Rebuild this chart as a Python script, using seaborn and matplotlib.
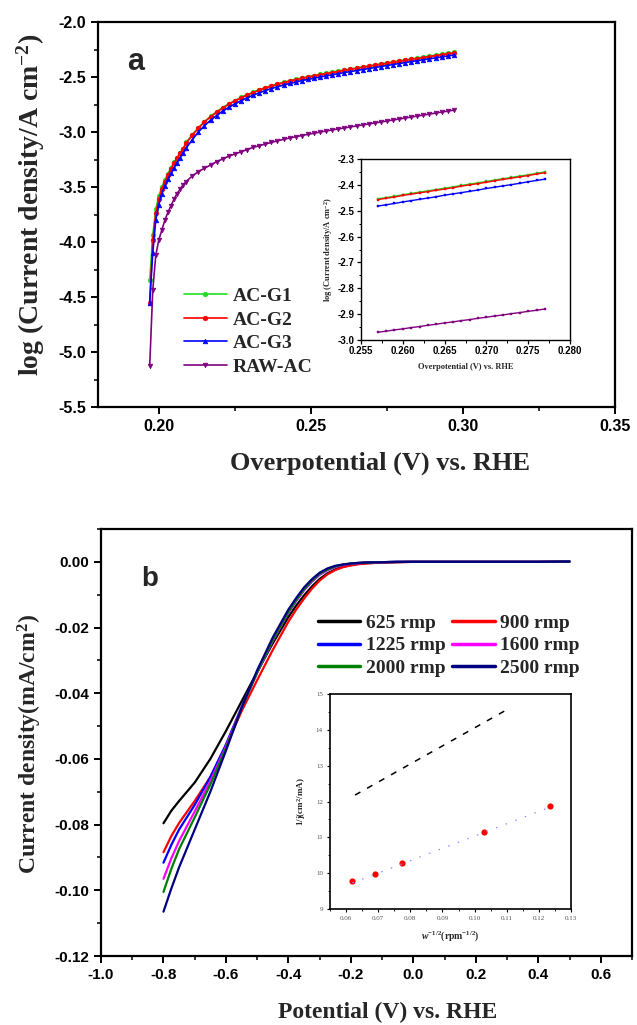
import matplotlib
matplotlib.use("Agg")
import matplotlib.pyplot as plt
import seaborn as sns
import pandas as pd
from matplotlib.ticker import MultipleLocator

# ---------------- data: panel a (Tafel, main) ----------------
eta = [0.197, 0.198, 0.199, 0.200, 0.201, 0.202, 0.203, 0.204, 0.205, 0.206, 0.207, 0.208, 0.209,
       0.211, 0.213, 0.215, 0.217, 0.219, 0.221, 0.223, 0.225, 0.227, 0.229, 0.231, 0.233, 0.235,
       0.237, 0.239, 0.241, 0.243, 0.245, 0.247, 0.249, 0.251, 0.253, 0.255, 0.257, 0.259, 0.261,
       0.263, 0.265, 0.267, 0.269, 0.271, 0.273, 0.275, 0.277, 0.279, 0.281, 0.283, 0.285, 0.287,
       0.289, 0.291, 0.293, 0.295, 0.297]
ac_g1 = [-4.35, -3.94, -3.70, -3.58, -3.50, -3.435, -3.378, -3.325, -3.277, -3.233, -3.19, -3.15, -3.095,
         -3.026, -2.961, -2.906, -2.858, -2.816, -2.778, -2.744, -2.714, -2.686, -2.661, -2.638, -2.616, -2.596,
         -2.579, -2.563, -2.548, -2.534, -2.521, -2.509, -2.498, -2.487, -2.476, -2.466, -2.456, -2.446, -2.436,
         -2.427, -2.418, -2.408, -2.399, -2.390, -2.381, -2.372, -2.363, -2.354, -2.345, -2.336, -2.328, -2.319,
         -2.310, -2.302, -2.293, -2.285, -2.277]
ac_g2 = [-4.55, -3.98, -3.74, -3.61, -3.52, -3.45, -3.39, -3.335, -3.285, -3.24, -3.195, -3.155, -3.10,
         -3.03, -2.965, -2.91, -2.862, -2.82, -2.782, -2.748, -2.718, -2.69, -2.665, -2.642, -2.62, -2.60,
         -2.583, -2.567, -2.552, -2.538, -2.525, -2.513, -2.502, -2.491, -2.480, -2.470, -2.460, -2.450, -2.440,
         -2.431, -2.422, -2.412, -2.403, -2.394, -2.385, -2.376, -2.367, -2.358, -2.349, -2.340, -2.332, -2.323,
         -2.314, -2.306, -2.297, -2.289, -2.281]
ac_g3 = [-4.55, -4.10, -3.80, -3.66, -3.56, -3.49, -3.43, -3.375, -3.325, -3.28, -3.235, -3.19, -3.145,
         -3.07, -3.00, -2.943, -2.893, -2.85, -2.81, -2.776, -2.745, -2.716, -2.69, -2.666, -2.644, -2.623,
         -2.605, -2.589, -2.573, -2.559, -2.546, -2.533, -2.522, -2.511, -2.500, -2.490, -2.480, -2.470, -2.460,
         -2.451, -2.442, -2.432, -2.423, -2.414, -2.405, -2.396, -2.387, -2.378, -2.369, -2.360, -2.352, -2.343,
         -2.334, -2.326, -2.317, -2.309, -2.300]
raw_ac = [-5.13, -4.44, -4.12, -3.98, -3.89, -3.80, -3.73, -3.67, -3.61, -3.56, -3.52, -3.48, -3.45,
          -3.40, -3.36, -3.33, -3.30, -3.27, -3.245, -3.22, -3.20, -3.18, -3.16, -3.14, -3.125, -3.11,
          -3.095, -3.08, -3.067, -3.055, -3.043, -3.032, -3.021, -3.011, -3.001, -2.991, -2.981, -2.972, -2.963,
          -2.954, -2.945, -2.936, -2.927, -2.918, -2.909, -2.900, -2.891, -2.882, -2.873, -2.864, -2.855, -2.846,
          -2.837, -2.828, -2.819, -2.810, -2.801]
series_a = ["AC-G1", "AC-G2", "AC-G3", "RAW-AC"]

# ---------------- data: panel a inset ----------------
eta_in = [0.257, 0.258, 0.259, 0.260, 0.261, 0.262, 0.263, 0.264, 0.265, 0.266, 0.267,
          0.268, 0.269, 0.270, 0.271, 0.272, 0.273, 0.274, 0.275, 0.276, 0.277]
in_g1 = [-2.454, -2.449, -2.444, -2.438, -2.433, -2.428, -2.423, -2.418, -2.413, -2.408, -2.402,
         -2.397, -2.392, -2.387, -2.381, -2.376, -2.371, -2.366, -2.361, -2.355, -2.350]
in_g2 = [-2.457, -2.452, -2.447, -2.441, -2.436, -2.431, -2.426, -2.421, -2.416, -2.411, -2.405,
         -2.400, -2.395, -2.390, -2.384, -2.379, -2.374, -2.369, -2.364, -2.358, -2.353]
in_g3 = [-2.482, -2.477, -2.472, -2.466, -2.461, -2.456, -2.451, -2.446, -2.440, -2.435, -2.430,
         -2.425, -2.420, -2.414, -2.409, -2.404, -2.399, -2.394, -2.388, -2.383, -2.378]
in_raw = [-2.970, -2.966, -2.961, -2.957, -2.952, -2.948, -2.943, -2.939, -2.934, -2.930, -2.925,
          -2.921, -2.916, -2.912, -2.907, -2.903, -2.898, -2.894, -2.889, -2.885, -2.880]

# ---------------- data: panel b (LSV at rotation rates) ----------------
potential = [-0.80, -0.775, -0.75, -0.70, -0.65, -0.60, -0.55, -0.50, -0.45, -0.40, -0.375, -0.35,
             -0.325, -0.30, -0.275, -0.25, -0.225, -0.20, -0.175, -0.15, -0.10, -0.05, 0.00,
             0.10, 0.20, 0.30, 0.40, 0.50]
j625 = [-0.0796, -0.0758, -0.0728, -0.0672, -0.0600, -0.0515, -0.0425, -0.0335, -0.0248, -0.0168, -0.0133,
        -0.0102, -0.0075, -0.0052, -0.0035, -0.0023, -0.0015, -0.0010, -0.0006, -0.0004, -0.0002, -0.0001,
        0.0, 0.0, 0.0, 0.0, 0.0, 0.0001]
j900 = [-0.0884, -0.0835, -0.0795, -0.0728, -0.0655, -0.0562, -0.0455, -0.0360, -0.0268, -0.0182, -0.0145,
        -0.0112, -0.0082, -0.0057, -0.0038, -0.0025, -0.0016, -0.0011, -0.0007, -0.0005, -0.0002, -0.0001,
        0.0, 0.0, 0.0, 0.0, 0.0, 0.0001]
j1225 = [-0.0916, -0.0862, -0.0815, -0.0740, -0.0655, -0.0556, -0.0442, -0.0337, -0.0240, -0.0154, -0.0118,
         -0.0086, -0.0060, -0.0039, -0.0025, -0.0015, -0.0009, -0.0006, -0.0004, -0.0002, -0.0001, 0.0,
         0.0, 0.0, 0.0, 0.0, 0.0, 0.0001]
j1600 = [-0.0965, -0.0903, -0.0850, -0.0760, -0.0668, -0.0562, -0.0444, -0.0337, -0.0240, -0.0154, -0.0118,
         -0.0085, -0.0059, -0.0038, -0.0024, -0.0015, -0.0009, -0.0006, -0.0004, -0.0002, -0.0001, 0.0,
         0.0, 0.0, 0.0, 0.0, 0.0, 0.0001]
j2000 = [-0.1005, -0.0935, -0.0875, -0.0778, -0.0678, -0.0567, -0.0446, -0.0336, -0.0238, -0.0152, -0.0116,
         -0.0083, -0.0057, -0.0036, -0.0023, -0.0014, -0.0008, -0.0005, -0.0003, -0.0002, -0.0001, 0.0,
         0.0, 0.0, 0.0, 0.0, 0.0, 0.0001]
j2500 = [-0.1065, -0.0995, -0.0930, -0.0815, -0.0700, -0.0575, -0.0445, -0.0330, -0.0230, -0.0145, -0.0110,
         -0.0078, -0.0053, -0.0033, -0.0020, -0.0012, -0.0008, -0.0005, -0.0003, -0.0002, -0.0001, 0.0,
         0.0, 0.0, 0.0, 0.0, 0.0, 0.0001]
rates = ["625 rmp", "900 rmp", "1225 rmp", "1600 rmp", "2000 rmp", "2500 rmp"]

# ---------------- data: panel b inset (Koutecky-Levich) ----------------
w_inv = [0.0618, 0.0691, 0.0773, 0.1030, 0.1236]
inv_j = [9.78, 9.99, 10.27, 11.15, 11.87]
fit_x = [0.0620, 0.1240]
fit_y = [9.73, 11.86]
theo_x = [0.0628, 0.1100]
theo_y = [12.18, 14.56]

# ---------------- style ----------------
sns.set_theme(style="ticks")
plt.rcParams.update({
    "font.family": ["Liberation Sans", "DejaVu Sans"],
    "font.weight": "bold",
    "mathtext.fontset": "custom",
    "mathtext.rm": "Liberation Serif:bold",
    "mathtext.bf": "Liberation Serif:bold",
    "mathtext.it": "Liberation Serif:italic:bold",
    "axes.linewidth": 1.6,
    "axes.edgecolor": "black",
    "xtick.color": "black",
    "ytick.color": "black",
    "xtick.direction": "out",
    "ytick.direction": "out",
})
SERIF = ["Liberation Serif", "DejaVu Serif"]
SANS = ["Liberation Sans", "DejaVu Sans"]

W, H = 637, 1025
fig = plt.figure(figsize=(W / 100, H / 100), dpi=100)


def px_axes(l, t, r, b):
    return fig.add_axes([l / W, 1 - b / H, (r - l) / W, (b - t) / H])


def style_ticks(ax, size, major=5, minor=3, width=1.4):
    ax.tick_params(which="major", length=major, width=width, labelsize=size,
                   top=False, right=False)
    ax.tick_params(which="minor", length=minor, width=width * 0.8, top=False, right=False)
    for lab in ax.get_xticklabels() + ax.get_yticklabels():
        lab.set_fontweight("bold")
        lab.set_family(SANS)


def draw(ax, x, y, **kw):
    sns.lineplot(x=x, y=y, ax=ax, estimator=None, sort=False, **kw)


# ================= panel a =================
ax_a = px_axes(98, 22, 615, 407)
cols_a = ["#22dd22", "#ff0000", "#0000ff", "#800080"]
marks_a = ["o", "o", "^", "v"]
for name, vals, c, m in zip(series_a, [ac_g1, ac_g2, ac_g3, raw_ac], cols_a, marks_a):
    draw(ax_a, eta, vals, color=c, lw=1.2, marker=m, ms=3.3, mec=c, mew=0.5, label=name)
ax_a.set_xlim(0.18, 0.35)
ax_a.set_ylim(-5.5, -2.0)
ax_a.xaxis.set_minor_locator(MultipleLocator(0.025))
ax_a.yaxis.set_minor_locator(MultipleLocator(0.25))
ax_a.set_xticks([0.20, 0.25, 0.30, 0.35])
ax_a.set_xticklabels(["0.20", "0.25", "0.30", "0.35"])
ax_a.set_yticks([-5.5, -5.0, -4.5, -4.0, -3.5, -3.0, -2.5, -2.0])
ax_a.set_yticklabels(["-5.5", "-5.0", "-4.5", "-4.0", "-3.5", "-3.0", "-2.5", "-2.0"])
style_ticks(ax_a, 11.5)
ax_a.set_xlabel("Overpotential (V) vs. RHE", family=SERIF, fontsize=19, fontweight="bold")
ax_a.set_ylabel("log (Current density/A cm$^{-2}$)", family=SERIF, fontsize=20, fontweight="bold")
ax_a.xaxis.set_label_coords(0.545, -0.145)
ax_a.xaxis.label.set_va("center")
ax_a.yaxis.set_label_coords(-0.13, 0.525)
ax_a.yaxis.label.set_va("center")
ax_a.text(0.056, 0.875, "a", transform=ax_a.transAxes, family=SANS, fontsize=22,
          fontweight="bold", va="baseline", ha="left")
leg_a = ax_a.legend(loc="upper left", bbox_to_anchor=(0.166, 0.31), frameon=False,
                    prop={"family": SERIF, "weight": "bold", "size": 14},
                    handlelength=2.2, handletextpad=0.3, labelspacing=0.3, borderpad=0,
                    borderaxespad=0)

# ================= panel a inset =================
ins_a = px_axes(361, 159, 570, 340)
for vals, c in zip([in_g1, in_g2, in_g3, in_raw], cols_a):
    draw(ins_a, eta_in, vals, color=c, lw=1.0, marker="s", ms=2.0, mec=c, mew=0.3)
ins_a.set_xlim(0.255, 0.280)
ins_a.set_ylim(-3.0, -2.3)
ins_a.set_xticks([0.255, 0.260, 0.265, 0.270, 0.275, 0.280])
ins_a.set_xticklabels(["0.255", "0.260", "0.265", "0.270", "0.275", "0.280"])
ins_a.set_yticks([-3.0, -2.9, -2.8, -2.7, -2.6, -2.5, -2.4, -2.3])
ins_a.set_yticklabels(["-3.0", "-2.9", "-2.8", "-2.7", "-2.6", "-2.5", "-2.4", "-2.3"])
ins_a.xaxis.set_minor_locator(MultipleLocator(0.0025))
ins_a.yaxis.set_minor_locator(MultipleLocator(0.05))
for s in ins_a.spines.values():
    s.set_linewidth(1.0)
style_ticks(ins_a, 7, major=3, minor=1.8, width=0.9)
ins_a.tick_params(pad=1.5)
ins_a.set_xlabel("Overpotential (V) vs. RHE", family=SERIF, fontsize=6, fontweight="bold", labelpad=5)
ins_a.set_ylabel("log (Current density/A cm$^{-2}$)", family=SERIF, fontsize=6, fontweight="bold",
                 labelpad=2)

# ================= panel b =================
ax_b = px_axes(101, 529, 632, 956)
cols_b = ["#000000", "#ff0000", "#0000ff", "#ff00ff", "#008000", "#000080"]
for name, vals, c in zip(rates, [j625, j900, j1225, j1600, j2000, j2500], cols_b):
    draw(ax_b, potential, vals, color=c, lw=1.6, label=name)
ax_b.set_xlim(-1.0, 0.7)
ax_b.set_ylim(-0.12, 0.01)
ax_b.set_xticks([-1.0, -0.8, -0.6, -0.4, -0.2, 0.0, 0.2, 0.4, 0.6])
ax_b.set_xticklabels(["-1.0", "-0.8", "-0.6", "-0.4", "-0.2", "0.0", "0.2", "0.4", "0.6"])
ax_b.set_yticks([-0.12, -0.10, -0.08, -0.06, -0.04, -0.02, 0.00])
ax_b.set_yticklabels(["-0.12", "-0.10", "-0.08", "-0.06", "-0.04", "-0.02", "0.00"])
ax_b.xaxis.set_minor_locator(MultipleLocator(0.1))
ax_b.yaxis.set_minor_locator(MultipleLocator(0.01))
style_ticks(ax_b, 11)
ax_b.set_xlabel("Potential (V) vs. RHE", family=SERIF, fontsize=17, fontweight="bold")
ax_b.set_ylabel("Current density(mA/cm$^{2}$)", family=SERIF, fontsize=17, fontweight="bold")
ax_b.xaxis.set_label_coords(0.540, -0.133)
ax_b.xaxis.label.set_va("center")
ax_b.yaxis.set_label_coords(-0.134, 0.496)
ax_b.yaxis.label.set_va("center")
ax_b.text(0.075, 0.867, "b", transform=ax_b.transAxes, family=SANS, fontsize=20,
          fontweight="bold", va="baseline", ha="left")
hb = ax_b.get_lines()[:6]
order = [0, 2, 4, 1, 3, 5]
leg_b = ax_b.legend([hb[i] for i in order], [rates[i] for i in order], ncol=2,
                    loc="upper left", bbox_to_anchor=(0.408, 0.80), frameon=False,
                    prop={"family": SERIF, "weight": "bold", "size": 14},
                    handlelength=2.2, handletextpad=0.3, columnspacing=0.3,
                    labelspacing=0.25, borderpad=0, borderaxespad=0)
for ln in leg_b.get_lines():
    ln.set_linewidth(2.5)

# ================= panel b inset =================
ins_b = px_axes(330, 694, 571, 909)
draw(ins_b, theo_x, theo_y, color="black", lw=1.1, dashes=(4, 5))
draw(ins_b, fit_x, fit_y, color="#8c8cff", lw=0.9, dashes=(1.2, 7))
sns.scatterplot(x=w_inv, y=inv_j, ax=ins_b, color="#ff0000", s=20, edgecolor="#ff0000", linewidth=0)
ins_b.set_xlim(0.055, 0.13)
ins_b.set_ylim(9, 15)
ins_b.set_xticks([0.06, 0.07, 0.08, 0.09, 0.10, 0.11, 0.12, 0.13])
ins_b.set_xticklabels(["0.06", "0.07", "0.08", "0.09", "0.10", "0.11", "0.12", "0.13"])
ins_b.set_yticks([9, 10, 11, 12, 13, 14, 15])
ins_b.set_yticklabels(["9", "10", "11", "12", "13", "14", "15"])
ins_b.xaxis.set_minor_locator(MultipleLocator(0.005))
ins_b.yaxis.set_minor_locator(MultipleLocator(0.5))
for s in ins_b.spines.values():
    s.set_linewidth(1.2)
ins_b.tick_params(which="major", length=2.5, width=0.8, labelsize=5, pad=2.5,
                  labelcolor="#555555", top=False, right=False)
ins_b.tick_params(which="minor", length=1.5, width=0.6, top=False, right=False)
for lab in ins_b.get_xticklabels() + ins_b.get_yticklabels():
    lab.set_family(SERIF)
    lab.set_fontweight("normal")
ins_b.set_xlabel("$w^{-1/2}$(rpm$^{-1/2}$)", family=SERIF, fontsize=7, fontweight="bold", labelpad=6)
ins_b.set_ylabel("1/j(cm$^{2}$/mA)", family=SERIF, fontsize=6.5, fontweight="bold", labelpad=6)

fig.savefig("out.png", dpi=100, facecolor="white")
